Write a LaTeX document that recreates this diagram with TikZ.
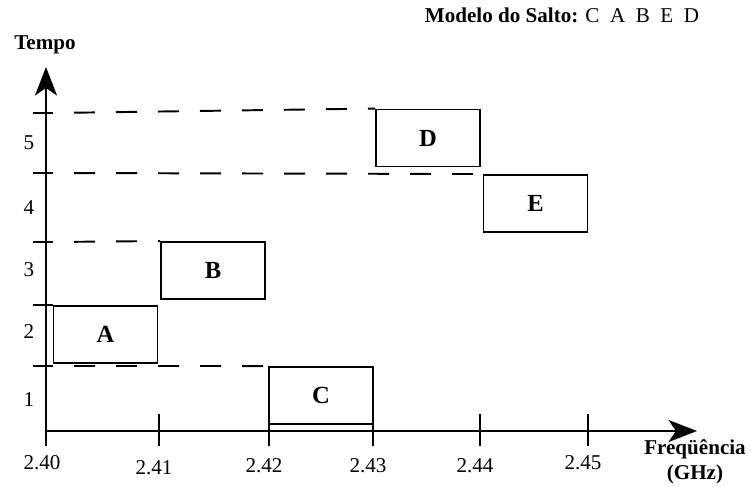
\documentclass[tikz,border=0pt]{standalone}
\usepackage{fontspec}
\setmainfont{Liberation Serif}
\usetikzlibrary{arrows.meta}

\begin{document}
\begin{tikzpicture}[
  axis/.style={line width=1.1pt},
  hop/.style={draw,line width=1.1pt,minimum width=2.08cm,minimum height=1.14cm,inner sep=0pt,
    font=\fontsize{14}{16}\selectfont\bfseries},
  slotline/.style={line width=1.1pt,dash pattern=on 0.42cm off 0.42cm,dash phase=0.42cm},
  lbl/.style={font=\fontsize{12}{14}\selectfont},
  tip/.style={-{Stealth[length=0.57cm,width=0.44cm,inset=0.15cm]}}
]
\useasboundingbox (-0.92,-1.10) rectangle (14.10,8.62);

% axes
\draw [axis,tip] (0,-0.30) -- (0,7.28);
\draw [axis,tip] (0,0) -- (13.02,0);
\node [lbl,font=\fontsize{12}{14}\selectfont\bfseries] (tempo) at (-0.02,7.72) {Tempo};
\node [lbl,font=\fontsize{12}{14}\selectfont\bfseries,align=center] (freq) at (12.98,-0.62) {Freqüência\\(GHz)};
\node [lbl] (model) at (10.32,8.32) {\textbf{Modelo do Salto:} C\ \ A\ \ B\ \ E\ \ D};

% time slots
\draw [axis] (-0.26,1.30) -- (0.14,1.30) coordinate (t1);
\draw [axis] (-0.26,2.52) -- (0.14,2.52) coordinate (t2);
\draw [axis] (-0.26,3.78) -- (0.14,3.78) coordinate (t3);
\draw [axis] (-0.26,5.16) -- (0.14,5.16) coordinate (t4);
\draw [axis] (-0.26,6.36) -- (0.14,6.36) coordinate (t5);
\node [lbl] at (-0.34,0.62) {1};
\node [lbl] at (-0.34,1.98) {2};
\node [lbl] at (-0.34,3.22) {3};
\node [lbl] at (-0.34,4.46) {4};
\node [lbl] at (-0.34,5.76) {5};

% frequencies
\draw [axis] (2.26,-0.30) -- (2.26,0.34);
\draw [axis] (4.46,-0.30) -- (4.46,0.34);
\draw [axis] (6.54,-0.30) -- (6.54,0.34);
\draw [axis] (8.68,-0.30) -- (8.68,0.34);
\draw [axis] (10.84,-0.30) -- (10.84,0.34);
\node [lbl] at (-0.08,-0.64) {2.40};
\node [lbl] at (2.16,-0.74) {2.41};
\node [lbl] at (4.36,-0.70) {2.42};
\node [lbl] at (6.44,-0.70) {2.43};
\node [lbl] at (8.58,-0.70) {2.44};
\node [lbl] at (10.74,-0.64) {2.45};

% hops
\node [hop] (A) at (1.19,1.93) {A};
\node [hop] (B) at (3.34,3.21) {B};
\node [hop] (C) at (5.50,0.71) {C};
\node [hop] (D) at (7.64,5.86) {D};
\node [hop] (E) at (9.79,4.55) {E};

\draw [slotline] (t1) -- (C.north west);
\draw [slotline] (t3) -- (B.north west);
\draw [slotline] (t4) -- (E.north west);
\draw [slotline] (t5) -- (D.north west);
\end{tikzpicture}
\end{document}
